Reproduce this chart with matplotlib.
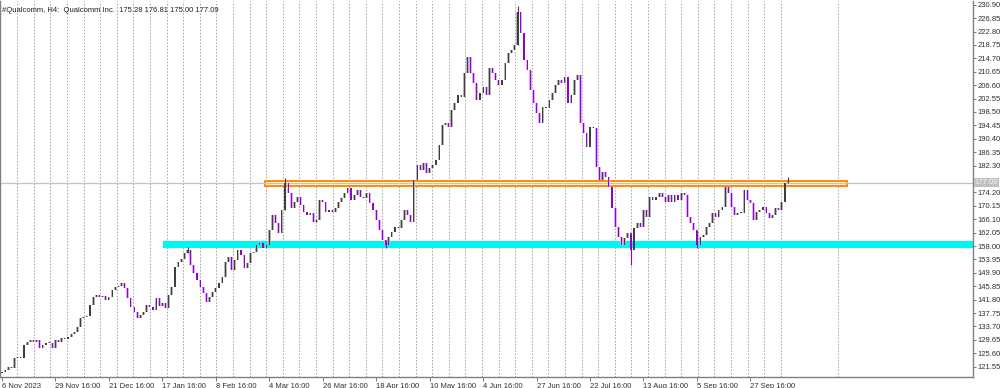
import matplotlib
matplotlib.use("Agg")
import numpy as np
import matplotlib.pyplot as plt
from matplotlib.patches import Rectangle

title = "#Qualcomm, H4:  Qualcomm Inc.  175.28 176.81 175.00 177.09"

first_open = 119.50
closes = [
    119.94, 120.54, 121.45, 121.15, 124.17, 124.47, 124.17, 128.10, 129.00, 129.61,
    129.00, 129.61, 127.19, 128.10, 128.70, 128.70, 127.19, 129.61, 129.00, 130.21,
    129.91, 130.51, 131.42, 132.02, 133.53, 136.25, 136.56, 136.86, 140.18, 142.60,
    143.20, 142.60, 142.90, 141.69, 142.60, 144.71, 145.62, 145.92, 146.83, 145.32,
    142.30, 139.58, 138.07, 136.25, 137.16, 138.07, 140.18, 139.58, 138.67, 142.30,
    139.88, 140.79, 139.27, 143.20, 145.62, 151.66, 153.17, 154.08, 155.89, 156.80,
    152.26, 149.85, 147.73, 145.62, 143.81, 141.09, 142.60, 144.11, 145.32, 146.83,
    148.64, 153.17, 154.68, 150.75, 153.77, 156.80, 155.29, 151.36, 152.87, 155.89,
    156.19, 158.31, 158.91, 157.41, 158.31, 162.84, 167.37, 164.95, 161.93, 168.88,
    177.04, 174.02, 169.48, 171.30, 172.81, 170.39, 168.27, 167.37, 167.97, 165.25,
    165.86, 171.90, 171.30, 168.27, 168.88, 168.27, 169.48, 171.30, 172.50, 174.02,
    175.53, 171.90, 173.41, 174.92, 172.81, 172.50, 174.02, 170.99, 168.88, 165.86,
    162.84, 159.82, 158.31, 160.72, 162.23, 163.74, 163.44, 165.86, 168.88, 167.37,
    165.25, 177.94, 182.47, 180.96, 183.08, 180.06, 181.57, 182.47, 183.98, 188.52,
    194.56, 195.16, 193.95, 199.09, 201.20, 203.62, 203.02, 210.27, 215.10, 210.27,
    207.25, 202.11, 204.23, 206.04, 203.62, 211.78, 210.27, 208.15, 206.64, 208.15,
    213.29, 216.31, 217.22, 218.73, 228.69, 222.35, 214.19, 211.17, 205.13, 201.20,
    198.18, 195.16, 200.00, 199.69, 202.11, 204.23, 206.64, 208.15, 207.25, 209.06,
    201.20, 203.62, 208.15, 209.66, 195.16, 192.14, 187.91, 193.95, 193.65, 181.87,
    177.94, 180.36, 178.85, 175.83, 169.48, 163.74, 160.72, 158.31, 160.42, 161.93,
    156.80, 163.44, 164.95, 163.74, 168.88, 166.76, 172.81, 171.90, 172.81, 174.02,
    172.81, 171.30, 173.41, 171.30, 173.41, 171.90, 174.02, 173.41, 166.76, 164.95,
    162.84, 158.31, 160.72, 161.33, 163.74, 164.95, 167.97, 166.76, 168.88, 169.79,
    175.83, 174.02, 169.79, 167.37, 167.97, 167.97, 174.92, 171.90, 170.99, 165.86,
    168.27, 168.88, 169.79, 167.97, 166.46, 167.37, 169.48, 168.88, 171.30, 177.04,
    177.09,
]
# wicks that stick out clearly from the bodies (bar index -> price)
wick_highs = {59: 157.7, 90: 178.5, 164: 230.5, 250: 178.81}
wick_lows = {122: 157.4, 200: 152.3, 221: 157.4}

date_labels = ["6 Nov 2023", "29 Nov 16:00", "21 Dec 16:00", "17 Jan 16:00",
               "8 Feb 16:00", "4 Mar 16:00", "26 Mar 16:00", "18 Apr 16:00",
               "10 May 16:00", "4 Jun 16:00", "27 Jun 16:00", "22 Jul 16:00",
               "13 Aug 16:00", "5 Sep 16:00", "27 Sep 16:00"]
price_ticks = [121.55, 125.60, 129.65, 133.70, 137.75, 141.80, 145.85, 149.90,
               153.95, 158.00, 162.05, 166.10, 170.15, 174.20, 178.25, 182.30,
               186.35, 190.40, 194.45, 198.50, 202.55, 206.60, 210.65, 214.70,
               218.75, 222.80, 226.85, 230.90]
last_price = 177.09
support_zone = (157.4, 159.5)
resistance_zone = (176.0, 177.6)

font = ["Liberation Sans Narrow", "Liberation Sans", "DejaVu Sans"]
plt.rcParams["font.family"] = font

fig = plt.figure(figsize=(10, 3.88), dpi=100)
ax = fig.add_axes([0.0, 0.0284, 0.973, 0.969])
ax.set_xlim(-0.64, 308.8)
ax.set_ylim(118.43, 232.02)

# dotted vertical grid
for gx in list(np.arange(4.8, 252, 5.28)) + [266]:
    ax.axvline(gx, color="#a0a0a0", lw=0.7, ls=(0, (1.5, 1.8)), zorder=0)

# zones
ax.add_patch(Rectangle((51.2, support_zone[0]), 300, support_zone[1] - support_zone[0],
                       facecolor="#00f5f5", edgecolor="none", zorder=1))
ax.add_patch(Rectangle((83.6, resistance_zone[0]), 185.2, resistance_zone[1] - resistance_zone[0],
                       facecolor="#fff3e0", edgecolor="#ff8c00", lw=1.4, zorder=1))
ax.axhline(last_price, color="#c4c4c4", lw=0.9, zorder=1)

# candles
opens = [first_open] + closes[:-1]
for i, (o, c) in enumerate(zip(opens, closes)):
    bull = c >= o
    core = "#3f3f3f" if bull else "#9400d3"
    halo = "#b4b4b4" if bull else "#deb0f2"
    hi = wick_highs.get(i, max(o, c))
    lo = wick_lows.get(i, min(o, c))
    if hi > max(o, c) or lo < min(o, c):
        ax.vlines(i, lo, hi, color=core, lw=0.8, zorder=3)
    body = max(abs(c - o), 0.35)
    ax.bar(i, body, bottom=min(o, c), width=0.85, color=halo, zorder=2)
    ax.bar(i, body, bottom=min(o, c), width=0.36, color=core, zorder=3)

ax.text(0.002, 0.985, title, transform=ax.transAxes, fontsize=5.5, color="#202020",
        ha="left", va="top")

# axes styling
for s in ["left", "bottom", "right"]:
    ax.spines[s].set_color("#808080")
    ax.spines[s].set_linewidth(1.0)
ax.spines["top"].set_visible(False)

# the price box hides the tick label closest to the last price
near = min(price_ticks, key=lambda p: abs(p - last_price))
ax.yaxis.tick_right()
ax.set_yticks(price_ticks)
ax.set_yticklabels(["" if p == near else f"{p:.2f}" for p in price_ticks])
ax.tick_params(axis="y", length=2, width=0.6, color="#606060", labelsize=5.5,
               labelcolor="#303030", pad=1)

ax.set_xticks([17 * k for k in range(len(date_labels))])
ax.set_xticklabels(date_labels, ha="left")
ax.tick_params(axis="x", length=3, width=0.6, color="#606060", labelsize=5.5,
               labelcolor="#303030", pad=1)

ax.text(1.002, last_price, f"{last_price:.2f}", transform=ax.get_yaxis_transform(),
        fontsize=5.5, color="#f4f4f4", ha="left", va="center",
        bbox=dict(boxstyle="square,pad=0.15", facecolor="#c0c0c0", edgecolor="none"))

fig.savefig("out.png", dpi=100)
